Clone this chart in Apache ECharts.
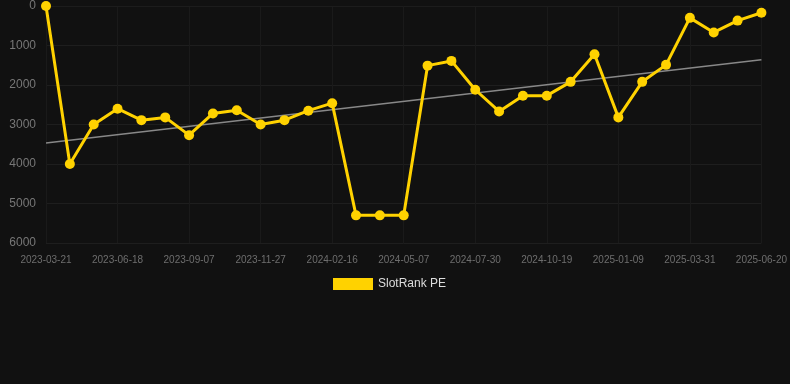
<!DOCTYPE html>
<html>
<head>
<meta charset="utf-8">
<script src="https://cdn.jsdelivr.net/npm/echarts@6/dist/echarts.min.js"></script>
<style>
html,body{margin:0;padding:0;background:#111111;}
#c{width:790px;height:384px;}
</style>
</head>
<body>
<div id="c"></div>
<script>
var categories = [
  '2023-03-21','2023-04-19','2023-05-19','2023-06-18','2023-07-15','2023-08-11',
  '2023-09-07','2023-10-04','2023-10-31','2023-11-27','2023-12-24','2024-01-20',
  '2024-02-16','2024-03-14','2024-04-10','2024-05-07','2024-06-03','2024-07-02',
  '2024-07-30','2024-08-26','2024-09-22','2024-10-19','2024-11-15','2024-12-12',
  '2025-01-09','2025-02-05','2025-03-04','2025-03-31','2025-04-27','2025-05-24',
  '2025-06-20'
];
var peValues = [
  0, 4000, 3000, 2600, 2890, 2820,
  3270, 2720, 2640, 3000, 2890, 2650,
  2460, 5300, 5300, 5300, 1510, 1390,
  2120, 2670, 2270, 2270, 1920, 1220,
  2820, 1920, 1490, 300, 670, 370,
  170
];
var trendStart = 3470;
var trendEnd = 1360;

var trendData = categories.map(function(c, i){
  if (i === 0) return trendStart;
  if (i === categories.length - 1) return trendEnd;
  return null;
});

var chart = echarts.init(document.getElementById('c'));
chart.setOption({
  backgroundColor: '#111111',
  animation: false,
  grid: {left: 46, right: 28, top: 6, bottom: 141, containLabel: false},
  legend: {
    data: [{name: 'SlotRank PE', icon: 'rect'}],
    top: 273,
    left: 328,
    itemWidth: 40,
    itemHeight: 12,
    itemGap: 10,
    textStyle: {color: '#dddddd', fontSize: 12, fontFamily: 'Arial, Liberation Sans, sans-serif'}
  },
  xAxis: {
    type: 'category',
    data: categories,
    boundaryGap: false,
    axisLine: {show: true, lineStyle: {color: '#1c1c1c'}},
    axisTick: {show: false},
    axisLabel: {
      interval: 2,
      color: '#6e6e6e',
      fontSize: 10,
      margin: 12,
      fontFamily: 'Arial, Liberation Sans, sans-serif'
    },
    splitLine: {show: true, interval: 2, lineStyle: {color: '#1a1a1a'}}
  },
  yAxis: {
    type: 'value',
    inverse: true,
    min: 0,
    max: 6000,
    interval: 1000,
    axisLine: {show: false},
    axisTick: {show: false},
    axisLabel: {
      color: '#777777', fontSize: 12, margin: 10,
      fontFamily: 'Arial, Liberation Sans, sans-serif',
      formatter: function(v){ return String(v); }
    },
    splitLine: {show: true, lineStyle: {color: '#1e1e1e'}}
  },
  series: [
    {
      name: 'Trend',
      type: 'line',
      data: trendData,
      connectNulls: true,
      showSymbol: false,
      symbol: 'none',
      lineStyle: {color: '#888888', width: 1.5},
      silent: true,
      z: 1
    },
    {
      name: 'SlotRank PE',
      type: 'line',
      data: peValues,
      symbol: 'circle',
      symbolSize: 10,
      itemStyle: {color: '#ffd200'},
      lineStyle: {color: '#ffd200', width: 3},
      z: 2
    }
  ]
});
</script>
</body>
</html>
